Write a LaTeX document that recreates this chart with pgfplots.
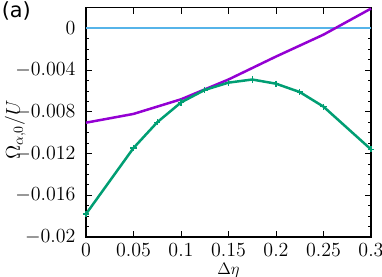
\documentclass[border=0pt]{standalone}
\usepackage{pgfplots}
\pgfplotsset{compat=1.18}
\usepackage{fontspec}
\newfontfamily\labelfont{DejaVu Sans}
\definecolor{cpurple}{RGB}{148,0,211}
\definecolor{cgreen}{RGB}{0,158,115}
\definecolor{cblue}{RGB}{86,180,233}
\begin{document}
\begin{tikzpicture}
\begin{axis}[
  scale only axis,
  width=205.2pt, height=165.2pt,
  xmin=0, xmax=0.3, ymin=-0.02, ymax=0.002,
  scaled y ticks=false, scaled x ticks=false,
  xtick={0,0.05,0.1,0.15,0.2,0.25,0.3},
  xticklabels={$0$,$0.05$,$0.1$,$0.15$,$0.2$,$0.25$,$0.3$},
  ytick={-0.02,-0.016,-0.012,-0.008,-0.004,0},
  yticklabels={$-0.02$,$-0.016$,$-0.012$,$-0.008$,$-0.004$,$0$},
  minor y tick num=3,
  tick align=inside,
  tick pos=both,
  major tick length=4.5pt,
  minor tick length=2.5pt,
  every tick/.style={black, line width=0.6pt},
  axis line style={line width=0.8pt},
  ticklabel style={font=\fontsize{14}{16}\selectfont},
  xticklabel style={yshift=-1.5pt},
  yticklabel style={xshift=-4pt},
  xlabel={$\Delta\eta$},
  ylabel={$\Omega_{\alpha,0}/U$},
  xlabel style={font=\fontsize{13}{15}\selectfont, at={(axis description cs:0.5,0)}, anchor=north, yshift=-15.6pt},
  ylabel style={font=\fontsize{14}{16}\selectfont, at={(axis description cs:-0.2485,0.466)}, anchor=center},
  clip=false,
]
\addplot[cblue, line width=1.4pt] coordinates {(0,0) (0.3,0)};
\addplot[cpurple, line width=1.8pt] coordinates {
 (0,-0.00904) (0.05,-0.0082) (0.1,-0.0068) (0.15,-0.0049) (0.2,-0.0027) (0.25,-0.0006) (0.3,0.0019)};
\addplot[cgreen, line width=1.8pt, mark=+, mark size=2.2pt, mark options={line width=0.9pt}] coordinates {
 (0,-0.0178) (0.05,-0.01147) (0.075,-0.0090) (0.1,-0.0071) (0.125,-0.0059) (0.15,-0.0052)
 (0.175,-0.0049) (0.2,-0.0053) (0.225,-0.0061) (0.25,-0.0075) (0.3,-0.0116)};
\end{axis}
\node[anchor=north west, inner sep=0pt, font=\labelfont\fontsize{15}{17}\selectfont] at ([xshift=-60.8pt, yshift=4.3pt]current axis.north west) {(a)};
\pgfresetboundingbox
\path[use as bounding box] ([xshift=-61.9pt, yshift=-28.8pt]current axis.south west) rectangle ++(275.04pt,199.44pt);
\end{tikzpicture}
\end{document}
